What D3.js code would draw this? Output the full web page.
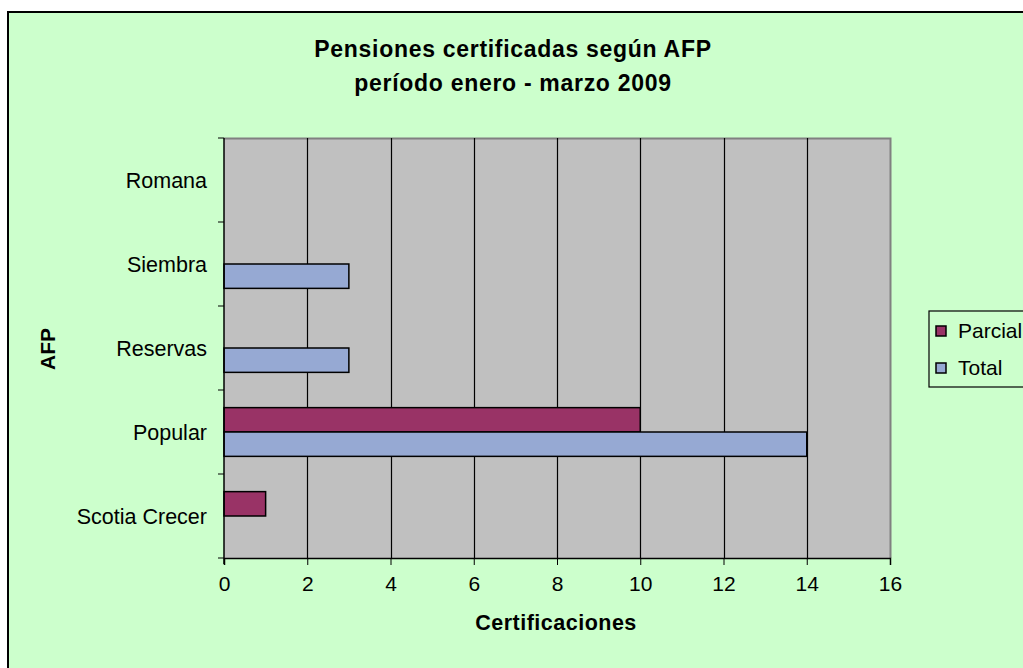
<!DOCTYPE html>
<html>
<head>
<meta charset="utf-8">
<script src="https://cdn.jsdelivr.net/npm/d3@7"></script>
<style>
  body { margin: 0; background: #fff; }
  text { font-family: "Liberation Sans", Arial, sans-serif; fill: #000; }
</style>
</head>
<body>
<div id="chart"></div>
<script>
// data
var categories = ["Romana", "Siembra", "Reservas", "Popular", "Scotia Crecer"]
var series = ["Parcial", "Total"]
var parcial = [0, 0, 0, 10, 1]
var total = [0, 3, 3, 14, 0]
var xTicks = [0, 2, 4, 6, 8, 10, 12, 14, 16]
var colors = {Parcial: "#993366", Total: "#96a9d3"}

var width = 1023, height = 668
var plot = {left: 224, right: 890, top: 138, bottom: 558}

var svg = d3.select("#chart")
  .append("svg")
    .attr("width", width)
    .attr("height", height)

// chart area background + frame
svg.append("rect")
  .attr("x", 8).attr("y", 12)
  .attr("width", width + 10).attr("height", height + 10)
  .attr("fill", "#ccffcc")
  .attr("stroke", "#000")
  .attr("stroke-width", 2)

// title
var title = svg.append("text")
  .attr("text-anchor", "middle")
  .style("font-size", "23px")
  .style("font-weight", "bold")
  .style("letter-spacing", "0.7px")
title.append("tspan").attr("x", 513).attr("y", 57).text("Pensiones certificadas según AFP")
title.append("tspan").attr("x", 513).attr("y", 91).text("período enero - marzo 2009")

// scales
var x = d3.scaleLinear()
  .domain([0, 16])
  .range([plot.left, plot.right])

var y0 = d3.scaleBand()
  .domain(categories)
  .range([plot.top, plot.bottom])
  .paddingInner(0.42)
  .paddingOuter(0.21)

var y1 = d3.scaleBand()
  .domain(series)
  .range([0, y0.bandwidth()])

// plot area
svg.append("rect")
  .attr("x", plot.left).attr("y", plot.top)
  .attr("width", plot.right - plot.left)
  .attr("height", plot.bottom - plot.top)
  .attr("fill", "#c0c0c0")

// gray border top / right
svg.append("path")
  .attr("d", "M" + plot.left + "," + (plot.top + 0.5) + "H" + (plot.right + 0.5) + "V" + plot.bottom)
  .attr("fill", "none")
  .attr("stroke", "#808080")
  .attr("stroke-width", 2)

// vertical grid lines
svg.append("g")
  .selectAll("line")
  .data(xTicks.slice(1, -1))
  .enter()
  .append("line")
    .attr("x1", function(d) { return Math.round(x(d)) + 0.5 })
    .attr("x2", function(d) { return Math.round(x(d)) + 0.5 })
    .attr("y1", plot.top)
    .attr("y2", plot.bottom)
    .attr("stroke", "#000")
    .attr("stroke-width", 1.2)

// bars
var rows = categories.map(function(c, i) {
  return {cat: c, values: [{key: "Parcial", v: parcial[i]}, {key: "Total", v: total[i]}]}
})

svg.append("g")
  .selectAll("g")
  .data(rows)
  .enter()
  .append("g")
    .attr("transform", function(d) { return "translate(0," + y0(d.cat) + ")" })
  .selectAll("rect")
  .data(function(d) { return d.values.filter(function(e) { return e.v > 0 }) })
  .enter()
  .append("rect")
    .attr("x", x(0))
    .attr("y", function(d) { return y1(d.key) })
    .attr("width", function(d) { return x(d.v) - x(0) })
    .attr("height", y1.bandwidth())
    .attr("fill", function(d) { return colors[d.key] })
    .attr("stroke", "#000")
    .attr("stroke-width", 1.5)

// x axis
var xAxis = svg.append("g")
  .attr("transform", "translate(0," + plot.bottom + ")")
  .call(d3.axisBottom(x).tickValues(xTicks).tickSize(7).tickPadding(11))
xAxis.select(".domain").attr("stroke", "#000").attr("stroke-width", 1.5)
xAxis.selectAll(".tick line").attr("stroke", "#000")
xAxis.selectAll("text")
  .style("font-size", "21px")
  .style("font-family", "'Liberation Sans', Arial, sans-serif")

// y axis: ticks sit on category boundaries
var bounds = d3.range(categories.length + 1).map(function(i) {
  return plot.top + i * y0.step()
})
svg.append("line")
  .attr("x1", plot.left).attr("x2", plot.left)
  .attr("y1", plot.top).attr("y2", plot.bottom + 6)
  .attr("stroke", "#000").attr("stroke-width", 1.5)
svg.append("g")
  .selectAll("line")
  .data(bounds)
  .enter()
  .append("line")
    .attr("x1", plot.left - 6).attr("x2", plot.left)
    .attr("y1", function(d) { return d }).attr("y2", function(d) { return d })
    .attr("stroke", "#000")

svg.append("g")
  .selectAll("text")
  .data(categories)
  .enter()
  .append("text")
    .attr("x", 207)
    .attr("y", function(d) { return y0(d) + y0.bandwidth() / 2 })
    .attr("dy", "0.35em")
    .attr("text-anchor", "end")
    .style("font-size", "21.5px")
    .text(function(d) { return d })

// axis titles
svg.append("text")
  .attr("x", 556).attr("y", 630)
  .attr("text-anchor", "middle")
  .style("font-size", "21.5px")
  .style("font-weight", "bold")
  .style("letter-spacing", "0.5px")
  .text("Certificaciones")

svg.append("text")
  .attr("transform", "translate(55,349) rotate(-90)")
  .attr("text-anchor", "middle")
  .style("font-size", "21px")
  .style("font-weight", "bold")
  .text("AFP")

// legend
svg.append("rect")
  .attr("x", 929).attr("y", 311)
  .attr("width", 110).attr("height", 76)
  .attr("fill", "#ccffcc")
  .attr("stroke", "#000")
  .attr("stroke-width", 1.2)

var legend = svg.append("g")
var item = legend.selectAll("g")
  .data(series)
  .enter()
  .append("g")
    .attr("transform", function(d, i) { return "translate(936," + (331 + i * 37) + ")" })
item.append("rect")
  .attr("x", 0).attr("y", -5)
  .attr("width", 10).attr("height", 10)
  .attr("fill", function(d) { return colors[d] })
  .attr("stroke", "#000")
  .attr("stroke-width", 1.5)
item.append("text")
  .attr("x", 22)
  .attr("dy", "0.35em")
  .style("font-size", "21px")
  .text(function(d) { return d })
</script>
</body>
</html>
